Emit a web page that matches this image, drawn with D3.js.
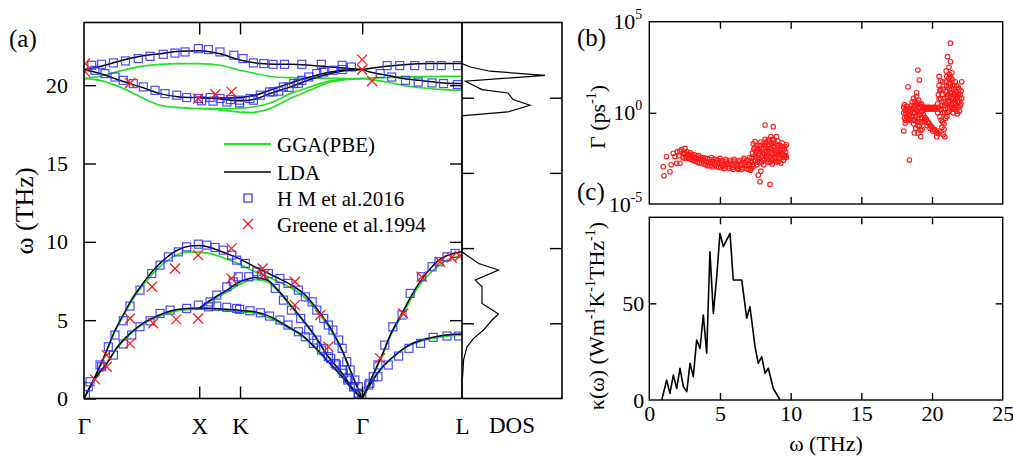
<!DOCTYPE html>
<html><head><meta charset="utf-8">
<script src="https://cdn.jsdelivr.net/npm/d3@7"></script>
<style>
body{margin:0;background:#fff}
svg text{font-family:"Liberation Serif","Tinos","Times New Roman","DejaVu Serif",serif !important;fill:#000}
</style>
</head><body><svg id="chart" width="1013" height="457"></svg>
<script>
// ---------------- DATA ----------------
// Panel (a): path coordinate q (Γ-X = 1) and frequency (THz)
const Q_TICKS = [0, 1, 1.354, 2.414, 3.28];
const Q_LABELS = ["Γ", "X", "K", "Γ", "L"];
const FREQ_TICKS = [0, 5, 10, 15, 20];
const DOS_TICKS = [1, 2, 3, 4];

const LDA_LA_GXKG = [[0,0],[0.095,1.39],[0.18,2.77],[0.27,4.37],[0.34,5.33],[0.41,6.28],[0.50,7.24],[0.59,8.09],[0.69,8.83],[0.80,9.43],[0.92,9.73],[1.0,9.77],[1.12,9.58],[1.24,9.25],[1.354,8.90],[1.48,8.41],[1.57,8.10],[1.66,7.77],[1.80,7.24],[1.92,6.60],[2.03,5.64],[2.15,4.37],[2.24,3.09],[2.31,1.82],[2.37,0.75],[2.414,0]];
const LDA_TA1_GXKG = [[0,0],[0.095,1.29],[0.197,2.24],[0.28,3.20],[0.40,4.16],[0.51,4.80],[0.63,5.26],[0.75,5.58],[0.86,5.73],[1.0,5.77],[1.18,5.73],[1.354,5.62],[1.48,5.54],[1.63,5.18],[1.77,4.58],[1.89,4.05],[2.0,3.30],[2.12,2.35],[2.24,1.39],[2.32,0.65],[2.414,0]];
const LDA_TA2_XKG = [[1.0,5.77],[1.12,6.39],[1.24,6.92],[1.28,7.13],[1.354,7.45],[1.40,7.58],[1.48,7.73],[1.59,7.56],[1.67,7.03],[1.77,6.17],[1.89,5.11],[2.01,3.94],[2.12,2.67],[2.24,1.61],[2.32,0.75],[2.414,0]];
const LDA_LA_GL = [[2.414,0],[2.50,1.39],[2.58,2.67],[2.67,4.25],[2.76,5.45],[2.84,6.55],[2.93,7.60],[3.02,8.41],[3.10,8.94],[3.19,9.22],[3.28,9.36]];
const LDA_TA_GL = [[2.414,0],[2.48,0.86],[2.58,1.93],[2.70,2.77],[2.82,3.41],[2.93,3.73],[3.05,3.94],[3.16,4.07],[3.28,4.11]];
const LDA_O1_GXKG = [[0,21.0],[0.14,21.2],[0.31,21.54],[0.49,21.84],[0.66,22.01],[0.83,22.16],[1.0,22.2],[1.18,22.0],[1.354,21.6],[1.53,21.38],[1.66,21.33],[1.79,21.33],[1.96,21.27],[2.14,21.16],[2.31,21.06],[2.414,21.0]];
const LDA_O1_GL = [[2.414,21.0],[2.57,21.16],[2.77,21.31],[3.0,21.38],[3.28,21.38]];
const LDA_O2_GXKG = [[0,21.0],[0.14,20.74],[0.31,20.31],[0.49,19.89],[0.66,19.46],[0.83,19.25],[1.0,19.21],[1.18,19.18],[1.354,19.22],[1.48,19.35],[1.61,19.67],[1.79,20.14],[1.96,20.52],[2.14,20.84],[2.31,20.98],[2.414,21.0]];
const LDA_O2_GL = [[2.414,21.0],[2.48,20.84],[2.63,20.63],[2.77,20.42],[2.95,20.27],[3.12,20.14],[3.28,20.1]];
const LDA_O3_XKG = [[1.0,19.21],[1.18,19.12],[1.354,19.0],[1.48,19.1],[1.61,19.46],[1.79,19.89],[1.96,20.36],[2.14,20.74],[2.31,20.96],[2.414,21.0]];

const GGA_LA_GXKG = [[0,0],[0.095,1.36],[0.18,2.72],[0.27,4.30],[0.34,5.25],[0.41,6.18],[0.50,7.12],[0.59,7.92],[0.69,8.62],[0.80,9.15],[0.92,9.36],[1.0,9.34],[1.12,9.20],[1.24,8.90],[1.354,8.55],[1.48,8.10],[1.57,7.85],[1.66,7.55],[1.80,7.05],[1.92,6.42],[2.03,5.50],[2.15,4.25],[2.24,3.00],[2.31,1.78],[2.37,0.73],[2.414,0]];
const GGA_TA1_GXKG = [[0,0],[0.095,1.27],[0.197,2.20],[0.28,3.15],[0.40,4.10],[0.51,4.73],[0.63,5.19],[0.75,5.50],[0.86,5.66],[1.0,5.70],[1.18,5.66],[1.354,5.55],[1.48,5.46],[1.63,5.10],[1.77,4.52],[1.89,4.00],[2.0,3.26],[2.12,2.32],[2.24,1.37],[2.32,0.64],[2.414,0]];
const GGA_TA2_XKG = [[1.0,5.70],[1.12,6.30],[1.24,6.80],[1.354,7.30],[1.48,7.58],[1.59,7.45],[1.67,6.95],[1.77,6.10],[1.89,5.05],[2.01,3.90],[2.12,2.63],[2.24,1.58],[2.32,0.73],[2.414,0]];
const GGA_LA_GL = [[2.414,0],[2.50,1.36],[2.58,2.62],[2.67,4.15],[2.76,5.32],[2.84,6.40],[2.93,7.42],[3.02,8.12],[3.10,8.62],[3.19,8.95],[3.28,9.10]];
const GGA_TA_GL = [[2.414,0],[2.48,0.84],[2.58,1.90],[2.70,2.73],[2.82,3.36],[2.93,3.68],[3.05,3.88],[3.16,4.00],[3.28,4.05]];
const GGA_O1_GXKG = [[0,20.42],[0.14,20.57],[0.31,20.9],[0.49,21.2],[0.66,21.33],[0.83,21.38],[1.0,21.38],[1.18,21.27],[1.354,20.95],[1.53,20.68],[1.66,20.52],[1.79,20.48],[1.96,20.46],[2.14,20.44],[2.31,20.42],[2.414,20.42]];
const GGA_O1_GL = [[2.414,20.42],[2.63,20.5],[2.9,20.54],[3.28,20.57]];
const GGA_O2_GXKG = [[0,20.42],[0.14,20.31],[0.31,19.89],[0.49,19.25],[0.66,18.72],[0.83,18.57],[1.0,18.51],[1.18,18.5],[1.354,18.52],[1.48,18.62],[1.61,18.85],[1.79,19.46],[1.96,19.89],[2.14,20.27],[2.31,20.4],[2.414,20.42]];
const GGA_O2_GL = [[2.414,20.42],[2.48,20.36],[2.63,20.2],[2.77,19.99],[2.95,19.82],[3.12,19.72],[3.28,19.68]];
const GGA_O3_XKG = [[1.0,18.51],[1.18,18.42],[1.354,18.28],[1.45,18.25],[1.61,18.5],[1.79,19.15],[1.96,19.67],[2.14,20.2],[2.31,20.38],[2.414,20.42]];

// H M et al. 2016 (squares)
const HM_ACOUSTIC = [[0.012,0.25],[0.052,1.07],[0.139,2.14],[0.211,3.30],[0.269,4.05],[0.341,4.96],[0.399,5.90],[0.486,6.92],[0.588,7.98],[0.660,8.51],[0.732,9.04],[0.819,9.36],[0.891,9.68],[0.992,9.85],[1.065,9.79],[1.137,9.64],[1.209,9.47],[1.282,9.15],[1.325,8.83],
 [0.037,0.75],[0.153,2.03],[0.255,2.77],[0.341,3.48],[0.414,4.05],[0.486,4.58],[0.573,4.96],[0.660,5.43],[0.747,5.64],[0.891,5.75],[0.992,5.96],[1.079,5.85],[1.152,5.90],[1.239,5.82],[1.325,5.75],
 [1.094,6.17],[1.152,6.60],[1.239,7.13],[1.296,7.45],[1.339,7.77],
 [1.40,8.62],[1.50,8.09],[1.60,7.98],[1.70,7.66],[1.77,7.35],[1.86,6.92],[1.92,6.49],[1.98,6.17],[2.02,5.64],[2.08,5.11],[2.12,4.69],[2.16,4.37],[2.21,3.73],[2.24,3.20],[2.28,2.35],[2.31,1.82],[2.35,1.18],[2.38,0.75],[2.41,0.22],
 [1.43,7.77],[1.54,7.88],[1.66,7.03],[1.73,6.28],[1.80,5.64],[1.88,5.11],[1.95,4.37],[2.02,3.73],[2.08,3.20],[2.14,2.56],[2.19,2.14],[2.25,1.61],[2.29,1.18],[2.34,0.75],[2.38,0.33],
 [1.35,5.69],[1.44,5.60],[1.53,5.47],[1.61,5.26],[1.70,5.01],[1.77,4.69],[1.86,4.26],[1.92,3.94],[1.99,3.52],[2.06,3.09],[2.12,2.67],[2.18,2.24],[2.24,1.82],[2.29,1.29],[2.34,0.75],[2.38,0.33],
 [2.47,0.86],[2.51,1.39],[2.55,2.14],[2.61,3.41],[2.68,4.58],[2.76,5.33],[2.83,6.71],[2.93,7.77],[3.02,8.41],[3.08,8.73],[3.15,9.04],[3.22,9.26],
 [2.48,0.97],[2.55,1.39],[2.64,2.14],[2.73,2.71],[2.82,3.20],[2.92,3.52],[3.03,3.90],[3.15,3.99],[3.25,3.99]];
const HM_OPTICAL = [[0.067,21.27],[0.153,21.33],[0.255,21.42],[0.36,21.55],[0.471,21.70],[0.573,21.84],[0.688,21.97],[0.790,22.05],[0.877,22.12],[0.992,22.33],[1.079,22.27],[1.18,22.12],[1.30,21.91],[1.38,21.70],[1.47,21.42],[1.56,21.38],[1.64,21.33],[1.74,21.33],[1.89,21.33],[2.06,21.33],[2.24,21.27],[2.32,21.16],
 [2.63,21.25],[2.74,21.25],[2.87,21.25],[3.0,21.25],[3.10,21.25],[3.24,21.25],
 [2.57,20.74],[2.67,20.52],[2.79,20.31],[2.90,20.2],[3.02,20.14],[3.12,20.10],[3.24,20.04],
 [0.095,20.95],[0.182,20.74],[0.269,20.52],[0.341,20.31],[0.428,20.10],[0.515,19.89],[0.616,19.67],[0.703,19.46],[0.805,19.36],[0.891,19.21],[0.992,19.15],[1.094,19.21],[1.18,19.15],[1.27,19.08],[1.35,19.04],[1.44,19.15],[1.53,19.36],[1.61,19.57],
 [1.02,19.0],[1.12,18.98],[1.24,18.93],[1.35,18.87],[1.47,19.04],
 [1.64,19.57],[1.73,19.89],[1.82,20.10],[1.89,20.31],[1.95,20.52],[2.02,20.74],[2.08,20.84],[2.16,20.95],[2.24,21.0],
 [1.69,19.62],[1.78,19.86],[1.86,20.12]];
// Greene et al. 1994 (crosses)
const GREENE = [[0.095,1.22],[0.197,2.77],[0.197,2.03],[0.40,5.11],[0.40,3.52],[0.59,7.13],[0.60,4.80],[0.79,8.30],[0.80,5.05],[0.99,9.15],[0.99,5.11],[1.28,9.58],[1.28,7.66],[1.55,8.30],[1.56,7.88],[1.83,7.45],[1.83,5.96],[2.05,5.33],[2.12,3.30],[2.57,2.56],[2.77,5.43],[2.93,7.77],[3.09,8.73],[3.19,9.00],[3.26,9.10],
 [0.01,21.38],[0.01,20.85],[0.40,20.14],[0.99,19.15],[1.14,19.42],[1.28,19.57],[2.414,21.63],[2.414,21.0],[2.50,20.27]];
// DOS: [frequency THz, DOS (arb.)]
const DOS = [[0,0],[1.18,0],[1.39,0.006],[2.46,0.016],[3.30,0.05],[3.84,0.116],[4.37,0.215],[5.01,0.30],[5.39,0.365],[5.75,0.28],[6.07,0.20],[7.13,0.20],[7.56,0.133],[8.20,0.365],[8.62,0.166],[9.36,0],[18.02,0],[18.05,0.016],[18.29,0.46],[18.72,0.68],[19.08,0.51],[19.50,0.46],[19.72,0.20],[20.25,0.033],[20.63,0.83],[20.89,0.28],[21.16,0.083],[21.38,0],[24,0]];
const LEGEND = ["GGA(PBE)", "LDA", "H M et al.2016", "Greene et al.1994"];

// Panel (b): [ω THz, log10 Γ (ps^-1)]
const GAMMA_LOW = [[0.99,-2.95],[1.04,-3.45],[1.22,-2.40],[1.46,-3.23],[1.55,-2.85],[1.70,-2.22],[1.82,-2.40],[1.94,-2.77],[1.98,-2.13],[2.10,-2.35],[2.17,-2.77],[2.17,-2.10],[2.29,-2.02],[2.40,-2.2],[2.53,-1.95],[2.53,-2.22],[2.65,-2.12],[2.6,-2.4],
 [2.4,-2.45],[2.7,-2.3],[2.8,-2.5],[2.9,-2.2],[3.0,-2.4],[3.1,-2.6],[3.2,-2.3],[3.3,-2.5],[3.4,-2.7],[3.5,-2.35],[3.6,-2.55],[3.7,-2.75],[3.8,-2.45],[3.9,-2.65],[4.0,-2.85],[4.1,-2.5],[4.2,-2.7],[4.3,-2.9],[4.4,-2.45],[4.5,-2.65],[4.6,-2.85],[4.7,-2.55],[4.8,-2.75],[4.9,-2.95],[5.0,-2.5],[5.1,-2.7],[5.2,-2.9],[5.3,-3.05],[5.4,-2.55],[5.5,-2.75],[5.6,-2.95],[5.7,-2.6],[5.8,-2.8],[5.9,-3.0],[6.0,-2.55],[6.1,-2.75],[6.2,-2.95],[6.3,-3.1],[6.4,-2.6],[6.5,-2.8],[6.6,-3.0],[6.7,-2.5],[6.8,-2.7],[6.9,-2.9],[7.0,-3.1],[7.1,-2.45],[7.2,-2.65],[7.3,-2.85],[7.2,-3.05],
 [7.4,-2.0],[7.5,-2.3],[7.5,-2.6],[7.6,-2.85],[7.6,-1.8],[7.7,-2.1],[7.7,-2.45],[7.8,-2.7],[7.9,-1.6],[7.9,-1.95],[8.0,-2.25],[8.0,-2.55],[8.1,-2.85],[8.2,-1.45],[8.2,-1.8],[8.3,-2.1],[8.3,-2.4],[8.4,-2.7],[8.5,-1.6],[8.5,-1.95],[8.6,-2.25],[8.6,-2.55],[8.7,-2.8],[8.8,-1.5],[8.8,-1.85],[8.9,-2.15],[8.9,-2.45],[9.0,-2.7],[9.1,-1.55],[9.1,-1.9],[9.2,-2.2],[9.2,-2.5],[9.3,-2.75],[9.4,-1.65],[9.4,-2.0],[9.5,-2.3],[9.5,-2.6],[9.6,-1.85],[9.65,-2.15],[9.7,-2.45],
 [7.48,-1.58],[8.19,-0.67],[8.77,-0.76],[7.71,-3.41],[7.83,-3.78],[8.54,-3.92],[7.9,-3.2],[7.35,-1.7],[8.6,-1.3],[9.0,-1.3]];
const GAMMA_LOW_DENSE = [[2.45,-2.25],[2.55,-2.5],[2.75,-2.45],[2.85,-2.3],[2.95,-2.55],[3.05,-2.3],[3.15,-2.45],[3.25,-2.65],[3.35,-2.4],[3.45,-2.55],[3.55,-2.75],[3.65,-2.45],[3.75,-2.6],[3.85,-2.8],[3.95,-2.5],[4.05,-2.7],[4.15,-2.9],[4.25,-2.55],[4.35,-2.75],[4.45,-2.95],[4.55,-2.55],[4.65,-2.75],[4.75,-2.95],[4.85,-2.6],[4.95,-2.8],[5.05,-3.0],[5.15,-2.6],[5.25,-2.8],[5.35,-2.95],[5.45,-2.65],[5.55,-2.85],[5.65,-3.05],[5.75,-2.7],[5.85,-2.9],[5.95,-3.1],[6.05,-2.65],[6.15,-2.85],[6.25,-3.05],[6.35,-2.7],[6.45,-2.9],[6.55,-3.1],[6.65,-2.6],[6.75,-2.85],[6.85,-3.05],[6.95,-2.6],[7.05,-2.8],[7.15,-3.15],[7.25,-2.5],[7.35,-2.95],[7.3,-2.2],
 [7.45,-1.9],[7.55,-2.15],[7.55,-2.45],[7.65,-2.7],[7.65,-1.95],[7.75,-2.25],[7.75,-2.55],[7.85,-1.8],[7.85,-2.1],[7.95,-2.4],[7.95,-2.7],[8.05,-1.7],[8.05,-2.0],[8.15,-2.3],[8.15,-2.6],[8.25,-1.6],[8.25,-1.95],[8.35,-2.25],[8.35,-2.55],[8.45,-1.75],[8.45,-2.05],[8.55,-2.4],[8.55,-2.7],[8.65,-1.7],[8.65,-2.0],[8.75,-2.3],[8.75,-2.6],[8.85,-1.65],[8.85,-2.0],[8.95,-2.3],[8.95,-2.6],[9.05,-1.75],[9.05,-2.05],[9.15,-2.35],[9.15,-2.65],[9.25,-1.8],[9.25,-2.05],[9.35,-2.35],[9.45,-1.85],[9.45,-2.2],[9.55,-2.45],[9.55,-2.0],[9.65,-2.35],[9.7,-1.75],[8.4,-1.5],[8.7,-1.45]];
const GAMMA_HIGH = [[18.0,0.3],[18.0,0.0],[18.05,-0.3],[18.1,-0.55],[18.1,0.15],[18.2,-0.2],[18.2,0.35],[18.3,-0.4],[18.3,0.05],[18.35,-0.15],[18.0,-1.0],[18.3,1.43],[18.4,-2.59],[18.4,0.25],[18.45,-0.3],[18.5,0.1],
 [18.6,0.6],[18.6,0.2],[18.6,-0.2],[18.7,-0.6],[18.7,0.8],[18.75,0.4],[18.8,0.0],[18.8,-0.4],[18.85,-0.85],[18.9,0.9],[18.9,0.5],[18.95,0.1],[19.0,-0.3],[19.0,-0.7],[19.0,-1.1],[19.05,0.7],[19.1,0.3],[19.1,-0.1],[19.15,-0.5],[19.2,-0.95],[19.2,-1.3],[19.25,0.5],[19.3,0.1],[18.9,1.1],[19.0,2.35],[19.1,1.8],[18.75,-1.1],[19.3,-0.9],
 [19.4,0.3],[19.5,0.2],[19.6,0.3],[19.7,0.2],[19.8,0.3],[19.9,0.2],[20.0,0.3],[20.1,0.2],[20.2,0.3],[20.3,0.25],
 [19.4,-0.1],[19.5,-0.25],[19.6,-0.35],[19.7,-0.5],[19.8,-0.6],[19.9,-0.7],[20.0,-0.8],[20.1,-0.9],[20.2,-0.95],[20.3,-1.05],[20.4,-1.1],[20.5,-1.0],[19.45,-0.45],[19.65,-0.7],[19.85,-0.85],[20.05,-1.0],
 [20.33,-1.31],[20.4,0.0],[20.4,0.5],[20.45,1.0],[20.5,1.5],[20.5,2.0],[20.55,0.2],[20.6,0.8],[20.6,1.3],[20.65,-0.4],[20.7,-0.8],[20.7,0.4],[20.75,1.7],[20.8,-1.2],[20.85,-0.6],[20.9,-1.31],[20.9,0.0],
 [20.95,0.6],[21.0,1.2],[21.0,1.7],[21.05,-0.2],[21.1,0.3],[21.1,0.9],[21.15,1.4],[21.2,1.9],[21.2,0.1],[21.25,0.6],[21.3,1.1],[21.3,1.6],[21.35,0.3],[21.4,0.8],[21.4,1.3],[21.45,1.8],[21.5,0.0],[21.5,0.5],[21.55,1.0],[21.6,1.5],[21.6,0.2],[21.65,0.7],[21.7,1.2],[21.75,0.4],[21.8,0.9],[21.8,-0.05],[21.85,1.4],[21.9,0.6],[21.95,0.1],[22.0,1.0],[22.05,0.5],[22.1,1.7],
 [21.1,3.08],[21.3,2.8],[21.3,3.82],[21.2,2.5],[21.4,2.2],[21.0,2.3]];
const GAMMA_HIGH_DENSE = [[18.05,0.45],[18.15,-0.05],[18.25,0.2],[18.15,-0.4],[18.4,-0.1],[18.5,-0.4],[18.55,0.4],[18.65,0.0],[18.65,-0.4],[18.7,0.3],[18.8,0.6],[18.85,0.2],[18.85,-0.2],[18.95,-0.5],[19.0,0.55],[19.05,0.1],[19.1,-0.75],[19.15,0.45],[19.2,0.0],[19.25,-0.25],[19.3,0.35],[19.35,-0.5],
 [19.45,0.25],[19.55,0.3],[19.65,0.2],[19.75,0.3],[19.85,0.25],[19.95,0.25],[20.05,0.2],[20.15,0.3],[20.25,0.2],
 [19.55,-0.4],[19.75,-0.55],[19.95,-0.75],[20.15,-0.9],[20.35,-1.1],[20.45,-1.15],
 [20.45,0.3],[20.5,0.75],[20.55,1.2],[20.6,1.75],[20.55,-0.2],[20.65,0.2],[20.7,1.0],[20.75,0.0],[20.75,-0.5],[20.8,0.6],[20.8,1.3],[20.85,-0.9],[20.9,0.4],[20.95,-0.3],
 [21.0,0.5],[21.05,0.9],[21.05,1.5],[21.1,0.0],[21.15,0.6],[21.15,1.0],[21.2,1.6],[21.25,0.3],[21.25,1.3],[21.3,0.9],[21.35,1.9],[21.35,0.5],[21.4,1.1],[21.45,0.2],[21.45,1.5],[21.5,0.8],[21.55,1.3],[21.55,0.3],[21.6,1.0],[21.65,1.7],[21.65,0.5],[21.7,0.9],[21.75,1.5],[21.75,0.1],[21.8,0.6],[21.85,1.0],[21.9,1.3],[21.9,0.3],[21.95,0.8],[22.0,0.4],[22.05,1.2],[22.1,0.8],[21.05,2.0],[21.25,2.1]];
const GAMMA_TICK_EXP = [-5, 0, 5];
// Panel (c): [ω THz, κ(ω)]
const KAPPA = [[0.88,0],[1.23,10.3],[1.46,3.4],[1.70,12.9],[1.94,6.0],[2.17,16.4],[2.41,6.9],[2.65,4.3],[2.88,19.0],[3.11,12.1],[3.35,31.0],[3.59,26.7],[3.82,44.0],[4.06,24.2],[4.29,76.7],[4.53,44.8],[4.77,63.8],[5.00,86.2],[5.24,79.3],[5.71,86.2],[5.94,62.1],[6.54,62.1],[6.89,42.3],[7.12,48.3],[7.48,27.6],[7.71,19.0],[7.95,22.4],[8.19,13.8],[8.42,16.4],[8.77,6.0],[9.25,0]];
const OMEGA_TICKS = [0, 5, 10, 15, 20, 25];
const KAPPA_TICKS = [0, 50];

// ---------------- DRAWING ----------------
const FONT = "Liberation Serif, Tinos, Times New Roman, DejaVu Serif, serif";
const GREEN = "#22e022", BLUE = "#2b2bff", RED = "#ff1a1a";
const svg = d3.select("#chart");
svg.append("rect").attr("width", 1013).attr("height", 457).attr("fill", "#fff");

function styleAxis(g, fs) {
  g.select(".domain").remove();
  g.attr("font-family", FONT).attr("font-size", fs);
  g.selectAll(".tick line").attr("stroke", "#000").attr("stroke-width", 1.4);
  g.selectAll(".tick text").attr("fill", "#000");
}

// ===== Panel (a)
const A = {l: 84, r: 462, t: 22.5, b: 398.5, dr: 562};
const xA = d3.scaleLinear().domain([0, 3.28]).range([A.l, A.r]);
const yA = d3.scaleLinear().domain([0, 24]).range([A.b, A.t]);
const xD = d3.scaleLinear().domain([0, 1]).range([A.r, A.dr]);
const yD = d3.scaleLinear().domain([0, 5]).range([A.b, A.t]);

const defs = svg.append("defs");
defs.append("clipPath").attr("id", "clipA").append("rect")
  .attr("x", A.l).attr("y", A.t).attr("width", A.r - A.l).attr("height", A.b - A.t);
const gA = svg.append("g").attr("clip-path", "url(#clipA)");
const lineA = d3.line().x(d => xA(d[0])).y(d => yA(d[1])).curve(d3.curveMonotoneX);

[GGA_LA_GXKG, GGA_TA1_GXKG, GGA_TA2_XKG, GGA_LA_GL, GGA_TA_GL, GGA_O1_GXKG, GGA_O1_GL, GGA_O2_GXKG, GGA_O2_GL, GGA_O3_XKG]
  .forEach(b => gA.append("path").attr("d", lineA(b)).attr("fill", "none").attr("stroke", GREEN).attr("stroke-width", 1.7));
[LDA_LA_GXKG, LDA_TA1_GXKG, LDA_TA2_XKG, LDA_LA_GL, LDA_TA_GL, LDA_O1_GXKG, LDA_O1_GL, LDA_O2_GXKG, LDA_O2_GL, LDA_O3_XKG]
  .forEach(b => gA.append("path").attr("d", lineA(b)).attr("fill", "none").attr("stroke", "#000").attr("stroke-width", 1.5));

const SQ = 8;
gA.selectAll("rect.hm").data(HM_ACOUSTIC.concat(HM_OPTICAL)).join("rect").attr("class", "hm")
  .attr("x", d => xA(d[0]) - SQ / 2).attr("y", d => yA(d[1]) - SQ / 2)
  .attr("width", SQ).attr("height", SQ).attr("fill", "none").attr("stroke", BLUE).attr("stroke-width", 1.2).attr("stroke-opacity", 0.85);
const crossPath = "M-5,-5L5,5M-5,5L5,-5";
gA.selectAll("path.gr").data(GREENE).join("path").attr("class", "gr")
  .attr("transform", d => `translate(${xA(d[0])},${yA(d[1])})`)
  .attr("d", crossPath).attr("fill", "none").attr("stroke", RED).attr("stroke-width", 1.3);

// DOS curve
const lineD = d3.line().x(d => xD(d[1])).y(d => yA(d[0]));
svg.append("path").attr("d", lineD(DOS)).attr("fill", "none").attr("stroke", "#000").attr("stroke-width", 1.2);

// Frames
svg.append("rect").attr("x", A.l).attr("y", A.t).attr("width", A.dr - A.l).attr("height", A.b - A.t)
  .attr("fill", "none").attr("stroke", "#000").attr("stroke-width", 1.6);
svg.append("line").attr("x1", A.r).attr("x2", A.r).attr("y1", A.t).attr("y2", A.b).attr("stroke", "#000").attr("stroke-width", 1.6);

// Axes (a)
const axL = svg.append("g").attr("transform", `translate(${A.l},0)`)
  .call(d3.axisLeft(yA).tickValues(FREQ_TICKS).tickSize(-12).tickPadding(16).tickFormat(d3.format("d")));
styleAxis(axL, 22);
const axR = svg.append("g").attr("transform", `translate(${A.r},0)`)
  .call(d3.axisRight(yA).tickValues(FREQ_TICKS.slice(1)).tickSize(-12).tickFormat(""));
styleAxis(axR, 22);
const axT = svg.append("g").attr("transform", `translate(0,${A.t})`)
  .call(d3.axisTop(xA).tickValues(Q_TICKS.slice(1, 4)).tickSize(-12).tickFormat(""));
styleAxis(axT, 22);
const axB = svg.append("g").attr("transform", `translate(0,${A.b})`)
  .call(d3.axisBottom(xA).tickValues(Q_TICKS).tickSize(-12).tickPadding(19).tickFormat((d, i) => Q_LABELS[i]));
styleAxis(axB, 23);
axB.selectAll(".tick").filter((d, i) => i === 0 || i === Q_TICKS.length - 1).select("line").remove();
const axDL = svg.append("g").attr("transform", `translate(${A.r},0)`)
  .call(d3.axisLeft(yD).tickValues(DOS_TICKS).tickSize(-12).tickFormat(""));
styleAxis(axDL, 22);
const axDR = svg.append("g").attr("transform", `translate(${A.dr},0)`)
  .call(d3.axisRight(yD).tickValues(DOS_TICKS).tickSize(-12).tickFormat(""));
styleAxis(axDR, 22);
svg.append("text").attr("x", xD(0.5)).attr("y", 433).attr("text-anchor", "middle")
  .attr("font-family", FONT).attr("font-size", 23).text("DOS");
svg.append("text").attr("transform", "translate(33,211) rotate(-90)").attr("text-anchor", "middle")
  .attr("font-family", FONT).attr("font-size", 26).text("ω (THz)");
svg.append("text").attr("x", 9).attr("y", 47).attr("font-family", FONT).attr("font-size", 25).text("(a)");

// Legend
const LX0 = 224, LX1 = 271, LXT = 277, LMX = 248;
const legRows = [144, 172, 198, 224];
svg.append("line").attr("x1", LX0).attr("x2", LX1).attr("y1", legRows[0]).attr("y2", legRows[0]).attr("stroke", GREEN).attr("stroke-width", 1.8);
svg.append("line").attr("x1", LX0).attr("x2", LX1).attr("y1", legRows[1]).attr("y2", legRows[1]).attr("stroke", "#000").attr("stroke-width", 1.5);
svg.append("rect").attr("x", LMX - SQ / 2).attr("y", legRows[2] - SQ / 2).attr("width", SQ).attr("height", SQ)
  .attr("fill", "none").attr("stroke", BLUE).attr("stroke-width", 1.2);
svg.append("path").attr("transform", `translate(${LMX},${legRows[3]})`).attr("d", crossPath).attr("fill", "none").attr("stroke", RED).attr("stroke-width", 1.3);
LEGEND.forEach((t, i) => svg.append("text").attr("x", LXT).attr("y", legRows[i] + 7.5)
  .attr("font-family", FONT).attr("font-size", 21).text(t));

// ===== Panel (b)
const B = {l: 649.3, r: 1002.7, t: 21.7, b: 204};
const xB = d3.scaleLinear().domain([0, 25]).range([B.l, B.r]);
const yB = d3.scaleLog().domain([1e-5, 1e5]).range([B.b, B.t]);
defs.append("clipPath").attr("id", "clipB").append("rect")
  .attr("x", B.l).attr("y", B.t).attr("width", B.r - B.l).attr("height", B.b - B.t);
const gB = svg.append("g").attr("clip-path", "url(#clipB)");
gB.selectAll("circle").data(GAMMA_LOW.concat(GAMMA_LOW_DENSE, GAMMA_HIGH, GAMMA_HIGH_DENSE)).join("circle")
  .attr("cx", d => xB(d[0])).attr("cy", d => yB(Math.pow(10, d[1]))).attr("r", 2.3)
  .attr("fill", "none").attr("stroke", RED).attr("stroke-width", 1.1);
svg.append("rect").attr("x", B.l).attr("y", B.t).attr("width", B.r - B.l).attr("height", B.b - B.t)
  .attr("fill", "none").attr("stroke", "#000").attr("stroke-width", 1.4);
[[d3.axisBottom, B.b], [d3.axisTop, B.t]].forEach(([ax, y]) => {
  const g = svg.append("g").attr("transform", `translate(0,${y})`)
    .call(ax(xB).tickValues(OMEGA_TICKS.slice(1, 5)).tickSize(-7).tickFormat(""));
  styleAxis(g, 22);
});
const bL = svg.append("g").attr("transform", `translate(${B.l},0)`)
  .call(d3.axisLeft(yB).tickValues([1]).tickSize(-7).tickFormat(""));
styleAxis(bL, 22);
const bR = svg.append("g").attr("transform", `translate(${B.r},0)`)
  .call(d3.axisRight(yB).tickValues([1]).tickSize(-7).tickFormat(""));
styleAxis(bR, 22);
GAMMA_TICK_EXP.forEach(e => {
  const t = svg.append("text").attr("x", B.l - 7).attr("y", yB(Math.pow(10, e)) + 7.5)
    .attr("text-anchor", "end").attr("font-family", FONT).attr("font-size", 22);
  t.append("tspan").text("10");
  t.append("tspan").attr("dy", -10).attr("font-size", 14).text(e < 0 ? "-" + Math.abs(e) : String(e));
});
const yLabB = svg.append("text").attr("transform", "translate(605,117) rotate(-90)").attr("text-anchor", "middle")
  .attr("font-family", FONT).attr("font-size", 22);
yLabB.append("tspan").text("Γ (ps");
yLabB.append("tspan").attr("dy", -9).attr("font-size", 14).text("-1");
yLabB.append("tspan").attr("dy", 9).text(")");
svg.append("text").attr("x", 577).attr("y", 46).attr("font-family", FONT).attr("font-size", 25).text("(b)");

// ===== Panel (c)
const C = {l: 649.3, r: 1002.7, t: 217.3, b: 400};
const xC = d3.scaleLinear().domain([0, 25]).range([C.l, C.r]);
const yC = d3.scaleLinear().domain([0, 94.5]).range([C.b, C.t]);
const lineC = d3.line().x(d => xC(d[0])).y(d => yC(d[1]));
svg.append("path").attr("d", lineC(KAPPA)).attr("fill", "none").attr("stroke", "#000").attr("stroke-width", 1.6).attr("stroke-linejoin", "round");
svg.append("rect").attr("x", C.l).attr("y", C.t).attr("width", C.r - C.l).attr("height", C.b - C.t)
  .attr("fill", "none").attr("stroke", "#000").attr("stroke-width", 1.4);
const cB = svg.append("g").attr("transform", `translate(0,${C.b})`)
  .call(d3.axisBottom(xC).tickValues(OMEGA_TICKS).tickSize(-7).tickPadding(5).tickFormat(d3.format("d")));
styleAxis(cB, 22);
cB.selectAll(".tick").filter(d => d === 0 || d === 25).select("line").remove();
const cT = svg.append("g").attr("transform", `translate(0,${C.t})`)
  .call(d3.axisTop(xC).tickValues(OMEGA_TICKS.slice(1, 5)).tickSize(-7).tickFormat(""));
styleAxis(cT, 22);
const cL = svg.append("g").attr("transform", `translate(${C.l},0)`)
  .call(d3.axisLeft(yC).tickValues(KAPPA_TICKS).tickSize(-7).tickPadding(5).tickFormat(d3.format("d")));
styleAxis(cL, 22);
cL.selectAll(".tick").filter(d => d === 0).select("line").remove();
const cR = svg.append("g").attr("transform", `translate(${C.r},0)`)
  .call(d3.axisRight(yC).tickValues(KAPPA_TICKS.slice(1)).tickSize(-7).tickFormat(""));
styleAxis(cR, 22);
svg.append("text").attr("x", (C.l + C.r) / 2).attr("y", 451).attr("text-anchor", "middle")
  .attr("font-family", FONT).attr("font-size", 22).text("ω (THz)");
const yLabC = svg.append("text").attr("transform", "translate(604,316) rotate(-90)").attr("text-anchor", "middle")
  .attr("font-family", FONT).attr("font-size", 22);
yLabC.append("tspan").text("κ(ω) (Wm");
yLabC.append("tspan").attr("dy", -9).attr("font-size", 14).text("-1");
yLabC.append("tspan").attr("dy", 9).text("K");
yLabC.append("tspan").attr("dy", -9).attr("font-size", 14).text("-1");
yLabC.append("tspan").attr("dy", 9).text("THz");
yLabC.append("tspan").attr("dy", -9).attr("font-size", 14).text("-1");
yLabC.append("tspan").attr("dy", 9).text(")");
svg.append("text").attr("x", 577).attr("y", 200).attr("font-family", FONT).attr("font-size", 25).text("(c)");
</script>
</body></html>
